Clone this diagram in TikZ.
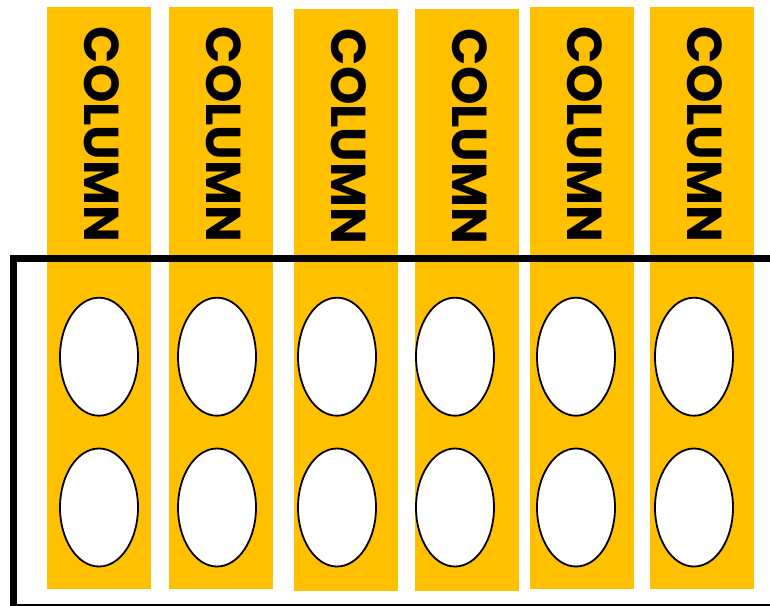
\documentclass[tikz,border=0pt]{standalone}
\usepackage{fontspec}
\usetikzlibrary{shapes.geometric}
\setmainfont{Poppins}
\definecolor{gold}{HTML}{FFC000}
\begin{document}
\begin{tikzpicture}[x=1pt,y=-1pt,
  colbox/.style={fill=gold, draw=none},
  hole/.style={ellipse, draw=black, line width=1.8pt, fill=white, minimum width=78pt, minimum height=118pt, inner sep=0pt},
  lbl/.style={rotate=-90, inner sep=0pt, font=\fontsize{49}{49}\selectfont\bfseries}]
\useasboundingbox (0,0) rectangle (770,605);
\begin{scope}
\clip (0,0) rectangle (770,605);
% columns
\fill[colbox] (47,7) rectangle (151,588.5);
\fill[colbox] (169,7) rectangle (273,588.5);
\fill[colbox] (294,9) rectangle (398,590.5);
\fill[colbox] (415,9) rectangle (519,590.5);
\fill[colbox] (530,7) rectangle (634,589);
\fill[colbox] (650,7) rectangle (754,589);
% frame
\draw[line width=6.5pt] (13.3,258.5) rectangle (790,607.5);
\end{scope}
% holes
\foreach \n/\x in {1/99,2/217,3/337,4/455,5/576,6/694}{
  \node[hole] (a\n) at (\x,356.7) {};
  \node[hole] (b\n) at (\x,507.5) {};
}
% labels
\node[lbl] (t1) at (101.5,134.5) {COLUMN};
\node[lbl] (t2) at (223.5,134.5) {COLUMN};
\node[lbl] (t3) at (348.5,136.5) {COLUMN};
\node[lbl] (t4) at (469.5,136.5) {COLUMN};
\node[lbl] (t5) at (584.5,134.5) {COLUMN};
\node[lbl] (t6) at (704.5,134.5) {COLUMN};
\end{tikzpicture}
\end{document}
